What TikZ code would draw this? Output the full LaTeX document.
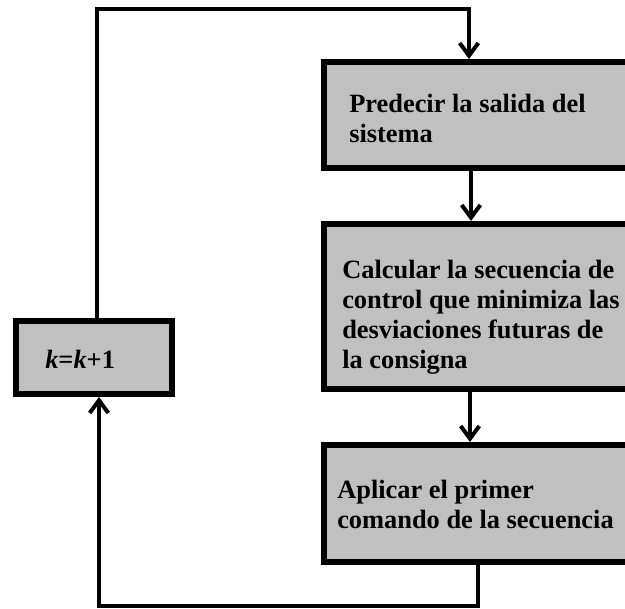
\documentclass[tikz,border=0pt]{standalone}
\usepackage{fontspec}
\setmainfont{Liberation Serif}
\usetikzlibrary{arrows.meta}
\definecolor{boxgray}{HTML}{C0C0C0}
\begin{document}
\begin{tikzpicture}[x=0.75pt,y=-0.75pt,
  box/.style={draw=black, line width=4.5pt, fill=boxgray, rectangle, inner sep=0pt},
  conn/.style={draw=black, line width=3pt},
  arr/.style={conn, -{Straight Barb[length=9.5pt,width=14pt]}},
  lbl/.style={font=\fontsize{19.8pt}{22.5pt}\selectfont\bfseries, align=left, inner sep=0pt, anchor=north west}]
\useasboundingbox (0,0) rectangle (625,609);
\clip (0,0) rectangle (625,609);
% boxes
\node[box, minimum width=252pt, minimum height=79.5pt] (b1) at (492,115) {};
\node[box, minimum width=252pt, minimum height=123.75pt] (b2) at (492,306.5) {};
\node[box, minimum width=252pt, minimum height=87.75pt] (b3) at (492,503.5) {};
\node[box, minimum width=117pt, minimum height=54.75pt] (k) at (94,357.5) {};
% texts
\node[lbl] (t1) at (349,94) {Predecir la salida del\\sistema};
\node[lbl] (t2) at (342,260) {Calcular la secuencia de\\control que minimiza las\\desviaciones futuras de\\la consigna};
\node[lbl] (t3) at (337,480) {Aplicar el primer\\comando de la secuencia};
\node[lbl] (tk) at (45,350) {\textit{k}=\textit{k}+1};
% routing coordinates
\coordinate (tl) at (97,9);
\coordinate (tr) at (469,9);
\coordinate (c12) at (471,0);
\coordinate (c23) at (470,0);
\coordinate (br) at (478,606);
\coordinate (bl) at (99,606);
% connectors
\draw[arr] (k.north -| tl) |- (tr) -- (tr |- b1.north);
\draw[arr] (b1.south -| c12) -- (b2.north -| c12);
\draw[arr] (b2.south -| c23) -- (b3.north -| c23);
\draw[arr] (b3.south -| br) |- (bl) -- (k.south -| bl);
\end{tikzpicture}
\end{document}
